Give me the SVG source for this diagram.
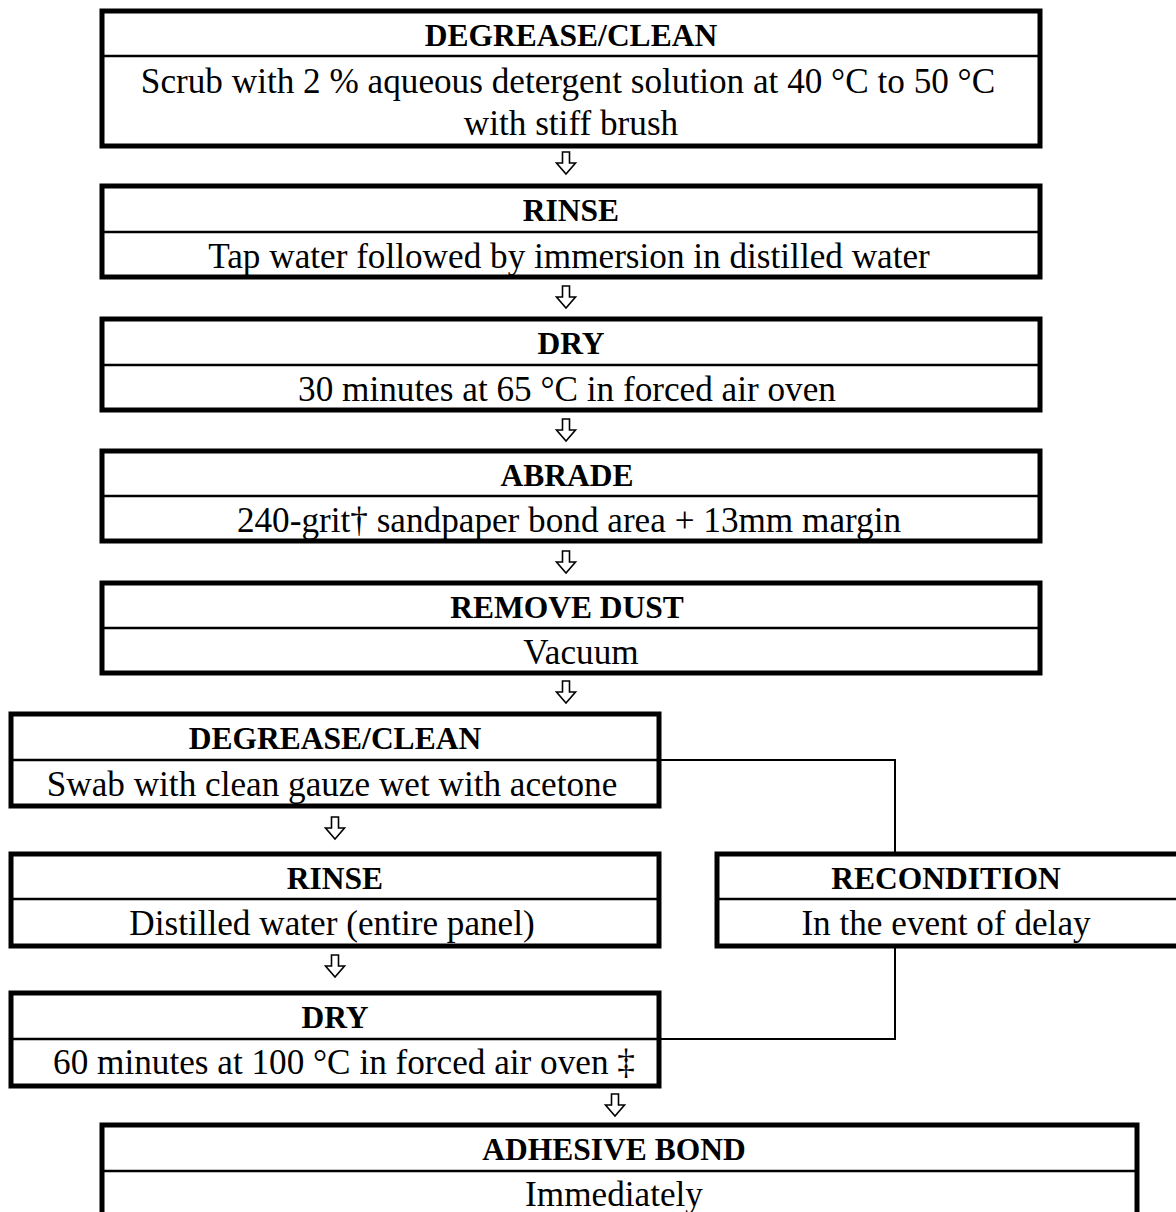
<svg xmlns="http://www.w3.org/2000/svg" width="1176" height="1212" viewBox="0 0 1176 1212">
<defs>
<style>
.box{fill:#fff;stroke:#000;stroke-width:5}
.div{stroke:#000;stroke-width:2.5}
.h{font-family:"Liberation Serif","Times New Roman",serif;font-weight:bold;font-size:31.5px;text-anchor:middle;fill:#000}
.b{font-family:"Liberation Serif","Times New Roman",serif;font-size:35.2px;text-anchor:middle;fill:#000}
.con{fill:none;stroke:#000;stroke-width:2}
.arr{fill:#fff;stroke:#000;stroke-width:1.6;stroke-linejoin:miter}
</style>
<path id="ar" d="M-3.5,0 H3.5 V11 H9.5 L0,22 L-9.5,11 H-3.5 Z"/>
</defs>
<rect width="1176" height="1212" fill="#fff"/>
<g id="connectors">
<polyline class="con" points="660,760 895,760 895,854"/>
<polyline class="con" points="895,946 895,1039 660,1039"/>
<use href="#ar" class="arr" x="566" y="152"/>
<use href="#ar" class="arr" x="566" y="286"/>
<use href="#ar" class="arr" x="566" y="419"/>
<use href="#ar" class="arr" x="566" y="551"/>
<use href="#ar" class="arr" x="566" y="681"/>
<use href="#ar" class="arr" x="335" y="817"/>
<use href="#ar" class="arr" x="335" y="955"/>
<use href="#ar" class="arr" x="615" y="1094"/>
</g>
<g id="n1">
<rect class="box" x="102" y="11" width="938" height="135"/>
<line class="div" x1="102" y1="56" x2="1040" y2="56"/>
<text class="h" x="571" y="46">DEGREASE/CLEAN</text>
<text class="b" x="568" y="93">Scrub with 2 % aqueous detergent solution at 40 °C to 50 °C</text>
<text class="b" x="571" y="135">with stiff brush</text>
</g>
<g id="n2">
<rect class="box" x="102" y="186" width="938" height="91"/>
<line class="div" x1="102" y1="232" x2="1040" y2="232"/>
<text class="h" x="571" y="221">RINSE</text>
<text class="b" x="569" y="268">Tap water followed by immersion in distilled water</text>
</g>
<g id="n3">
<rect class="box" x="102" y="319" width="938" height="91"/>
<line class="div" x1="102" y1="365" x2="1040" y2="365"/>
<text class="h" x="571" y="354">DRY</text>
<text class="b" x="567" y="401">30 minutes at 65 °C in forced air oven</text>
</g>
<g id="n4">
<rect class="box" x="102" y="451" width="938" height="90"/>
<line class="div" x1="102" y1="496" x2="1040" y2="496"/>
<text class="h" x="567" y="486">ABRADE</text>
<text class="b" x="569" y="532">240-grit† sandpaper bond area + 13mm margin</text>
</g>
<g id="n5">
<rect class="box" x="102" y="583" width="938" height="90"/>
<line class="div" x1="102" y1="628" x2="1040" y2="628"/>
<text class="h" x="567" y="618">REMOVE DUST</text>
<text class="b" x="581" y="664">Vacuum</text>
</g>
<g id="n6">
<rect class="box" x="11" y="714" width="648" height="92"/>
<line class="div" x1="11" y1="760" x2="659" y2="760"/>
<text class="h" x="335" y="749">DEGREASE/CLEAN</text>
<text class="b" x="332" y="796">Swab with clean gauze wet with acetone</text>
</g>
<g id="n7">
<rect class="box" x="11" y="854" width="648" height="92"/>
<line class="div" x1="11" y1="899" x2="659" y2="899"/>
<text class="h" x="335" y="889">RINSE</text>
<text class="b" x="332" y="935">Distilled water (entire panel)</text>
</g>
<g id="n8">
<rect class="box" x="11" y="993" width="648" height="93"/>
<line class="div" x1="11" y1="1039" x2="659" y2="1039"/>
<text class="h" x="335" y="1028">DRY</text>
<text class="b" x="344" y="1074">60 minutes at 100 °C in forced air oven ‡</text>
</g>
<g id="n9">
<rect class="box" x="717" y="854" width="463" height="92"/>
<line class="div" x1="717" y1="899" x2="1180" y2="899"/>
<text class="h" x="946" y="889">RECONDITION</text>
<text class="b" x="946" y="935">In the event of delay</text>
</g>
<g id="n10">
<rect class="box" x="102" y="1125" width="1035" height="110"/>
<line class="div" x1="102" y1="1171" x2="1137" y2="1171"/>
<text class="h" x="614" y="1160">ADHESIVE BOND</text>
<text class="b" x="614" y="1206">Immediately</text>
</g>
</svg>
